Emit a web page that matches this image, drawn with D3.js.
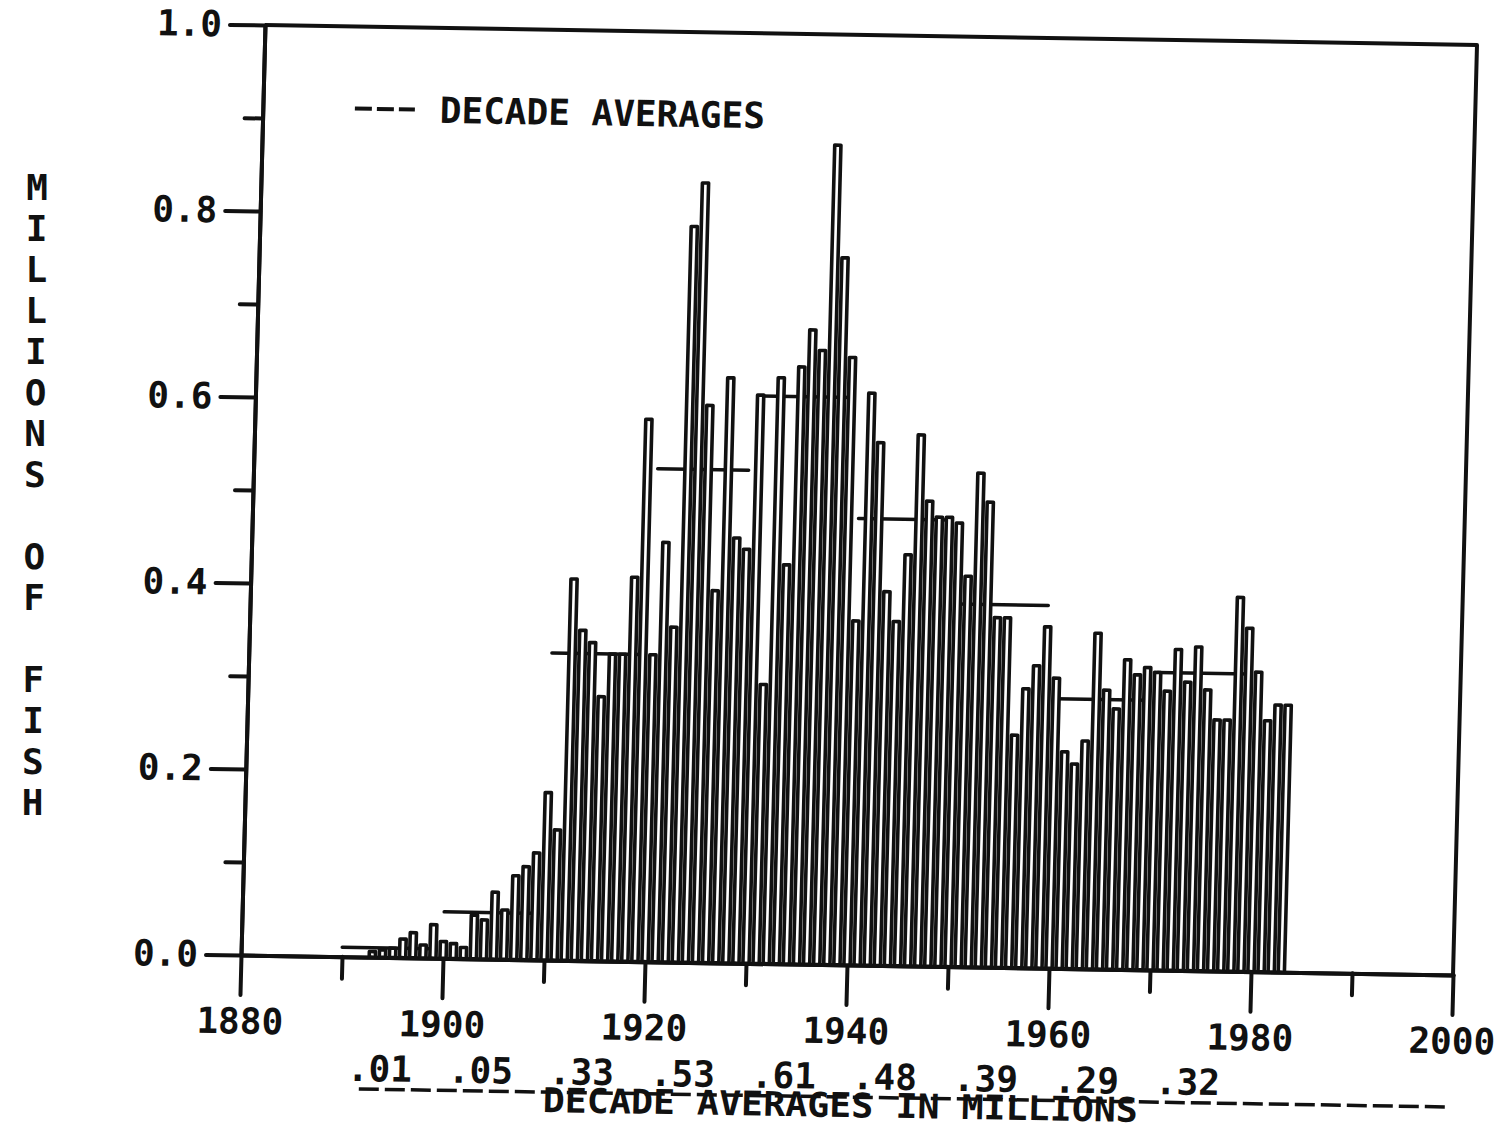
<!DOCTYPE html>
<html>
<head>
<meta charset="utf-8">
<script src="https://cdn.jsdelivr.net/npm/d3@7"></script>
<style>
  body { margin: 0; background: #fff; }
  svg text { font-family: "DejaVu Sans Mono", monospace; font-weight: bold; fill: #111; }
</style>
</head>
<body>
<script>
// yearly catch, millions of fish
const years = d3.range(1893, 1984);
const catches = [
  0.006, 0.008, 0.010, 0.020, 0.027, 0.014, 0.036,
  0.018, 0.016, 0.012, 0.047, 0.042, 0.072, 0.053, 0.090, 0.100, 0.115,
  0.180, 0.140, 0.410, 0.355, 0.342, 0.284, 0.330, 0.330, 0.413, 0.583,
  0.330, 0.451, 0.360, 0.791, 0.838, 0.599, 0.400, 0.629, 0.457, 0.445,
  0.611, 0.300, 0.630, 0.429, 0.642, 0.682, 0.660, 0.881, 0.760, 0.653,
  0.370, 0.615, 0.562, 0.402, 0.370, 0.442, 0.571, 0.500, 0.483, 0.483,
  0.477, 0.420, 0.531, 0.500, 0.376, 0.376, 0.250, 0.300, 0.325, 0.367,
  0.312, 0.233, 0.220, 0.245, 0.361, 0.300, 0.280, 0.333, 0.317, 0.325,
  0.320, 0.300, 0.345, 0.310, 0.348, 0.302, 0.270, 0.270, 0.402, 0.369,
  0.322, 0.270, 0.287, 0.287
];

const decades = [1890, 1900, 1910, 1920, 1930, 1940, 1950, 1960, 1970];
const decadeAverages = [0.01, 0.05, 0.33, 0.53, 0.61, 0.48, 0.39, 0.29, 0.32];

const xMajor = [1880, 1900, 1920, 1940, 1960, 1980, 2000];
const xMinor = [1890, 1910, 1930, 1950, 1970, 1990];
const yMajor = [0, 0.2, 0.4, 0.6, 0.8, 1.0];
const yMinor = [0.1, 0.3, 0.5, 0.7, 0.9];

const W = 1212, H = 930;
const ink = "#111";

const svg = d3.select("body").append("svg")
    .attr("width", 1503)
    .attr("height", 1132);

// the scanned page sits slightly skewed
const g = svg.append("g")
    .attr("transform", "matrix(1,0.0165,-0.0258,1,265,25)");

const x = d3.scaleLinear().domain([1880, 2000]).range([0, W]);
const y = d3.scaleLinear().domain([0, 1]).range([H, 0]);

function styleAxis(sel) {
    sel.attr("font-family", null).attr("font-size", null);
    sel.selectAll("path, line")
        .attr("stroke", ink)
        .attr("stroke-width", 4)
        .attr("stroke-linecap", "round");
    sel.selectAll("text").style("font-size", "36px").attr("fill", ink);
}

// y axis
g.append("g")
    .call(d3.axisLeft(y).tickValues(yMinor).tickSize(18).tickSizeOuter(0).tickFormat(""))
    .call(styleAxis);
g.append("g")
    .call(d3.axisLeft(y).tickValues(yMajor).tickSize(35).tickSizeOuter(0)
        .tickPadding(8).tickFormat(d3.format(".1f")))
    .call(styleAxis);

// x axis
g.append("g")
    .attr("transform", `translate(0,${H})`)
    .call(d3.axisBottom(x).tickValues(xMinor).tickSize(22).tickSizeOuter(0).tickFormat(""))
    .call(styleAxis);
g.append("g")
    .attr("transform", `translate(0,${H})`)
    .call(d3.axisBottom(x).tickValues(xMajor).tickSize(40).tickSizeOuter(0)
        .tickPadding(13).tickFormat(d3.format("d")))
    .call(styleAxis);

// top and right frame
g.append("path")
    .attr("d", `M${x(1880)},${y(1)}H${x(2000)}V${y(0)}`)
    .attr("fill", "none")
    .attr("stroke", ink)
    .attr("stroke-width", 4)
    .attr("stroke-linejoin", "round");

// decade average lines (under the bars)
g.selectAll(".avg")
    .data(decades)
    .join("line")
    .attr("class", "avg")
    .attr("x1", d => x(d))
    .attr("x2", d => x(d + 9))
    .attr("y1", (d, i) => y(decadeAverages[i]))
    .attr("y2", (d, i) => y(decadeAverages[i]))
    .attr("stroke", ink)
    .attr("stroke-width", 3.5)
    .attr("stroke-linecap", "round");

// bars
const bw = 6.2;
g.selectAll(".bar")
    .data(years)
    .join("rect")
    .attr("class", "bar")
    .attr("x", d => x(d) - bw / 2)
    .attr("width", bw)
    .attr("y", (d, i) => y(catches[i]))
    .attr("height", (d, i) => y(0) - y(catches[i]))
    .attr("fill", "#fff")
    .attr("stroke", ink)
    .attr("stroke-width", 3.6)
    .attr("stroke-linejoin", "round");

// legend
g.append("line")
    .attr("x1", 92).attr("x2", 152)
    .attr("y1", 82).attr("y2", 82)
    .attr("stroke", ink)
    .attr("stroke-width", 4)
    .attr("stroke-dasharray", "17,5");
g.append("text")
    .attr("x", 177).attr("y", 82)
    .attr("dy", "0.36em")
    .style("font-size", "36px")
    .text("DECADE AVERAGES");

// decade averages written under the axis
g.selectAll(".avgLabel")
    .data(decades)
    .join("text")
    .attr("class", "avgLabel")
    .attr("x", d => x(d + 4))
    .attr("y", H + 124)
    .attr("text-anchor", "middle")
    .style("font-size", "36px")
    .text((d, i) => d3.format(".2f")(decadeAverages[i]).replace(/^0/, ""));

g.append("line")
    .attr("x1", x(1892)).attr("x2", x(2000))
    .attr("y1", H + 132).attr("y2", H + 132)
    .attr("stroke", ink)
    .attr("stroke-width", 3.5)
    .attr("stroke-dasharray", "20,6");

g.append("text")
    .attr("x", x(1939.7))
    .attr("y", H + 152)
    .attr("text-anchor", "middle")
    .attr("textLength", 595)
    .attr("lengthAdjust", "spacingAndGlyphs")
    .style("font-size", "34px")
    .text("DECADE AVERAGES IN MILLIONS");

// y title, one letter per row
const yTitle = "MILLIONS OF FISH".split("");
svg.append("g")
    .selectAll("text")
    .data(yTitle)
    .join("text")
    .attr("x", (d, i) => 37 - i * 0.3)
    .attr("y", (d, i) => 187 + i * 41)
    .attr("dy", "0.36em")
    .attr("text-anchor", "middle")
    .style("font-size", "36px")
    .text(d => d);
</script>
</body>
</html>
